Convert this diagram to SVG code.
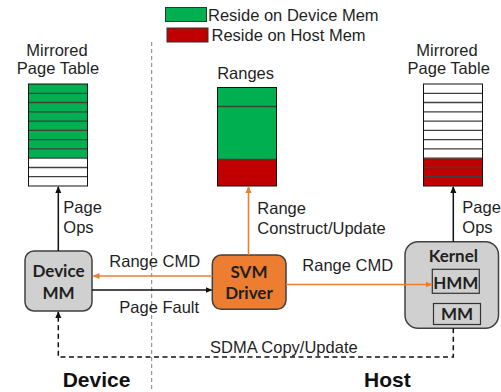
<svg xmlns="http://www.w3.org/2000/svg" width="501" height="392" viewBox="0 0 501 392">
<style>
.t{font-family:"Liberation Sans",Arial,sans-serif;font-size:16.5px;fill:#1f1f1f}
.b{font-family:Lato,"Liberation Sans",sans-serif;font-weight:bold;font-size:17px;fill:#1f1f1f}
.big{font-family:"Liberation Sans",Arial,sans-serif;font-weight:bold;font-size:21px;fill:#111}
.row{stroke:#404040;stroke-width:1.3}
.tbl{fill:none;stroke:#111;stroke-width:1}
.blk{stroke:#111;stroke-width:1.5;fill:none}
.org{stroke:#ED7D31;stroke-width:1.6;fill:none}
.box{fill:#D0D0D0;stroke:#404040;stroke-width:1.5}
</style>
<defs>
<marker id="ab" markerWidth="7" markerHeight="7" refX="6" refY="3.5" orient="auto" markerUnits="userSpaceOnUse"><path d="M0,0.5 L7,3.5 L0,6.5 z" fill="#111"/></marker>
<marker id="ao" markerWidth="7" markerHeight="7" refX="6" refY="3.5" orient="auto" markerUnits="userSpaceOnUse"><path d="M0,0.5 L7,3.5 L0,6.5 z" fill="#ED7D31"/></marker>
</defs>

<line x1="151.7" y1="42" x2="151.7" y2="392" stroke="#808080" stroke-width="1" stroke-dasharray="4,3"/>

<g id="legend">
<rect x="165.5" y="7.5" width="41" height="14" fill="#00B050" stroke="#333" stroke-width="1"/>
<rect x="167" y="28" width="41" height="14" fill="#C00000" stroke="#333" stroke-width="1"/>
<text class="t" x="208" y="21">Reside on Device Mem</text>
<text class="t" x="211.5" y="41">Reside on Host Mem</text>
</g>

<g id="device-page-table">
<text class="t" x="57" y="56" text-anchor="middle">Mirrored</text>
<text class="t" x="58" y="74" text-anchor="middle">Page Table</text>
<rect x="28.5" y="84" width="59" height="74.2" fill="#00B050"/>
<rect x="28.5" y="158.2" width="59" height="27.8" fill="#fff"/>
<g class="row">
<line x1="28.5" y1="93.3" x2="87.5" y2="93.3"/><line x1="28.5" y1="102.5" x2="87.5" y2="102.5"/>
<line x1="28.5" y1="111.8" x2="87.5" y2="111.8"/><line x1="28.5" y1="121.1" x2="87.5" y2="121.1"/>
<line x1="28.5" y1="130.4" x2="87.5" y2="130.4"/><line x1="28.5" y1="139.6" x2="87.5" y2="139.6"/>
<line x1="28.5" y1="148.9" x2="87.5" y2="148.9"/><line x1="28.5" y1="158.2" x2="87.5" y2="158.2"/>
<line x1="28.5" y1="167.5" x2="87.5" y2="167.5"/><line x1="28.5" y1="176.7" x2="87.5" y2="176.7"/>
</g>
<rect class="tbl" x="28.5" y="84" width="59" height="102"/>
</g>

<g id="host-page-table">
<text class="t" x="447" y="56" text-anchor="middle">Mirrored</text>
<text class="t" x="448.7" y="74" text-anchor="middle">Page Table</text>
<rect x="423.5" y="84" width="59" height="74.2" fill="#fff"/>
<rect x="423.5" y="158.2" width="59" height="27.8" fill="#C00000"/>
<g class="row">
<line x1="423.5" y1="93.3" x2="482.5" y2="93.3"/><line x1="423.5" y1="102.5" x2="482.5" y2="102.5"/>
<line x1="423.5" y1="111.8" x2="482.5" y2="111.8"/><line x1="423.5" y1="121.1" x2="482.5" y2="121.1"/>
<line x1="423.5" y1="130.4" x2="482.5" y2="130.4"/><line x1="423.5" y1="139.6" x2="482.5" y2="139.6"/>
<line x1="423.5" y1="148.9" x2="482.5" y2="148.9"/><line x1="423.5" y1="158.2" x2="482.5" y2="158.2"/>
<line x1="423.5" y1="167.5" x2="482.5" y2="167.5"/><line x1="423.5" y1="176.7" x2="482.5" y2="176.7"/>
</g>
<rect class="tbl" x="423.5" y="84" width="59" height="102"/>
</g>

<g id="ranges">
<text class="t" x="245.6" y="79" text-anchor="middle">Ranges</text>
<rect x="217.5" y="87.5" width="59" height="72" fill="#00B050"/>
<rect x="217.5" y="159.5" width="59" height="26.5" fill="#C00000"/>
<line class="row" x1="217.5" y1="106.5" x2="276.5" y2="106.5"/>
<line class="row" x1="217.5" y1="159.5" x2="276.5" y2="159.5"/>
<rect class="tbl" x="217.5" y="87.5" width="59" height="98.5"/>
</g>

<g id="device-mm">
<rect class="box" x="25" y="251" width="67" height="60" rx="9"/>
<text class="b" x="58.5" y="277" text-anchor="middle">Device</text>
<text class="b" x="58.5" y="298.5" text-anchor="middle">MM</text>
</g>

<g id="svm-driver">
<rect x="212.3" y="255" width="73.7" height="54.3" rx="9" fill="#ED7D31" stroke="#404040" stroke-width="1.5"/>
<text class="b" x="249" y="278.3" text-anchor="middle">SVM</text>
<text class="b" x="249" y="299.3" text-anchor="middle">Driver</text>
</g>

<g id="kernel">
<rect class="box" x="405" y="241.7" width="93.5" height="86.6" rx="13"/>
<text class="b" x="453.3" y="261.7" text-anchor="middle">Kernel</text>
<rect x="432.3" y="269.3" width="47" height="24" fill="#D0D0D0" stroke="#333" stroke-width="1.2"/>
<text class="b" x="455.8" y="288.5" text-anchor="middle">HMM</text>
<rect x="433.5" y="303.5" width="47" height="21" fill="#D0D0D0" stroke="#333" stroke-width="1.2"/>
<text class="b" x="457" y="320" text-anchor="middle">MM</text>
</g>

<g id="connectors">
<line class="blk" x1="58.3" y1="251" x2="58.3" y2="187" marker-end="url(#ab)"/>
<line class="blk" x1="453.3" y1="241.7" x2="453.3" y2="187" marker-end="url(#ab)"/>
<line class="org" x1="248.5" y1="255" x2="248.5" y2="187" marker-end="url(#ao)"/>
<line class="org" x1="212.3" y1="276" x2="93.5" y2="276" marker-end="url(#ao)"/>
<line class="blk" x1="92" y1="290" x2="211.5" y2="290" marker-end="url(#ab)"/>
<line class="org" x1="286" y1="284.5" x2="431.5" y2="284.5" marker-end="url(#ao)"/>
<path class="blk" d="M453.3,328.3 V357 H58.3 V312" stroke-dasharray="5,3.5" marker-end="url(#ab)"/>
</g>

<g id="labels">
<text class="t" x="63.3" y="213">Page</text>
<text class="t" x="63.3" y="233">Ops</text>
<text class="t" x="462.3" y="213">Page</text>
<text class="t" x="462.3" y="233">Ops</text>
<text class="t" x="257.3" y="214">Range</text>
<text class="t" x="257.3" y="234">Construct/Update</text>
<text class="t" x="109.3" y="267">Range CMD</text>
<text class="t" x="119.3" y="313">Page Fault</text>
<text class="t" x="302.3" y="271">Range CMD</text>
<text class="t" x="210" y="353">SDMA Copy/Update</text>
<text class="big" x="62.7" y="386.7">Device</text>
<text class="big" x="364" y="386.7">Host</text>
</g>
</svg>
